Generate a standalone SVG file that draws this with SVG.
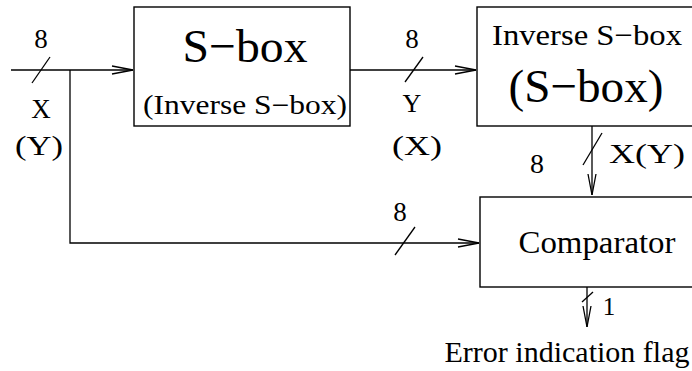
<svg xmlns="http://www.w3.org/2000/svg" width="692" height="371" viewBox="0 0 692 371">
<defs>
<style>
.box{fill:#fff;stroke:#000;stroke-width:1.4}
.ln{fill:none;stroke:#000;stroke-width:1.3}
</style>
<marker id="arr" viewBox="0 0 23 10" refX="22" refY="5" markerWidth="23" markerHeight="10" markerUnits="userSpaceOnUse" orient="auto">
<path d="M1,1 L22,5 L1,9" fill="none" stroke="#000" stroke-width="1.3"/>
</marker>
</defs>
<rect width="692" height="371" fill="#fff"/>
<g id="connectors">
<path class="ln" d="M11,70 H133" marker-end="url(#arr)"/>
<path class="ln" d="M70,70 V243 H479" marker-end="url(#arr)"/>
<path class="ln" d="M350,70 H476" marker-end="url(#arr)"/>
<path class="ln" d="M592,126 V195" marker-end="url(#arr)"/>
<path class="ln" d="M587,287 V327" marker-end="url(#arr)"/>
<path class="ln" d="M32,83 L50,57"/>
<path class="ln" d="M405,82 L423,57"/>
<path class="ln" d="M395,255 L415,227"/>
<path class="ln" d="M583,165 L602,133"/>
<path class="ln" d="M582,302 L593,292"/>
<text x="41" y="48" font-family="Liberation Serif" font-size="27" text-anchor="middle">8</text>
<text x="41" y="118" font-family="Liberation Serif" font-size="27" text-anchor="middle">X</text>
<text x="39" y="155" font-family="Liberation Serif" font-size="27" text-anchor="middle" textLength="48" lengthAdjust="spacingAndGlyphs">(Y)</text>
<text x="412" y="48" font-family="Liberation Serif" font-size="27" text-anchor="middle">8</text>
<text x="412" y="112" font-family="Liberation Serif" font-size="26" text-anchor="middle">Y</text>
<text x="417" y="155" font-family="Liberation Serif" font-size="27" text-anchor="middle" textLength="50" lengthAdjust="spacingAndGlyphs">(X)</text>
<text x="537" y="173" font-family="Liberation Serif" font-size="28" text-anchor="middle">8</text>
<text x="647" y="163" font-family="Liberation Serif" font-size="27" text-anchor="middle" textLength="76" lengthAdjust="spacingAndGlyphs">X(Y)</text>
<text x="400" y="221" font-family="Liberation Serif" font-size="27" text-anchor="middle">8</text>
<text x="609" y="315" font-family="Liberation Serif" font-size="25" text-anchor="middle">1</text>
<text x="567" y="362" font-family="Liberation Serif" font-size="29" text-anchor="middle" textLength="245" lengthAdjust="spacingAndGlyphs">Error indication flag</text>
</g>
<g id="sbox">
<rect class="box" x="134" y="7" width="216" height="119"/>
<text x="245" y="62" font-family="Liberation Serif" font-size="47" text-anchor="middle" textLength="125" lengthAdjust="spacingAndGlyphs">S−box</text>
<text x="245" y="114" font-family="Liberation Serif" font-size="27" text-anchor="middle" textLength="204" lengthAdjust="spacingAndGlyphs">(Inverse S−box)</text>
</g>
<g id="invsbox">
<rect class="box" x="477" y="7" width="230" height="119"/>
<text x="587" y="45" font-family="Liberation Serif" font-size="30" text-anchor="middle" textLength="190" lengthAdjust="spacingAndGlyphs">Inverse S−box</text>
<text x="586" y="102" font-family="Liberation Serif" font-size="47" text-anchor="middle" textLength="155" lengthAdjust="spacingAndGlyphs">(S−box)</text>
</g>
<g id="comparator">
<rect class="box" x="480" y="197" width="230" height="90"/>
<text x="597" y="253" font-family="Liberation Serif" font-size="32" text-anchor="middle" textLength="157" lengthAdjust="spacingAndGlyphs">Comparator</text>
</g>
</svg>
